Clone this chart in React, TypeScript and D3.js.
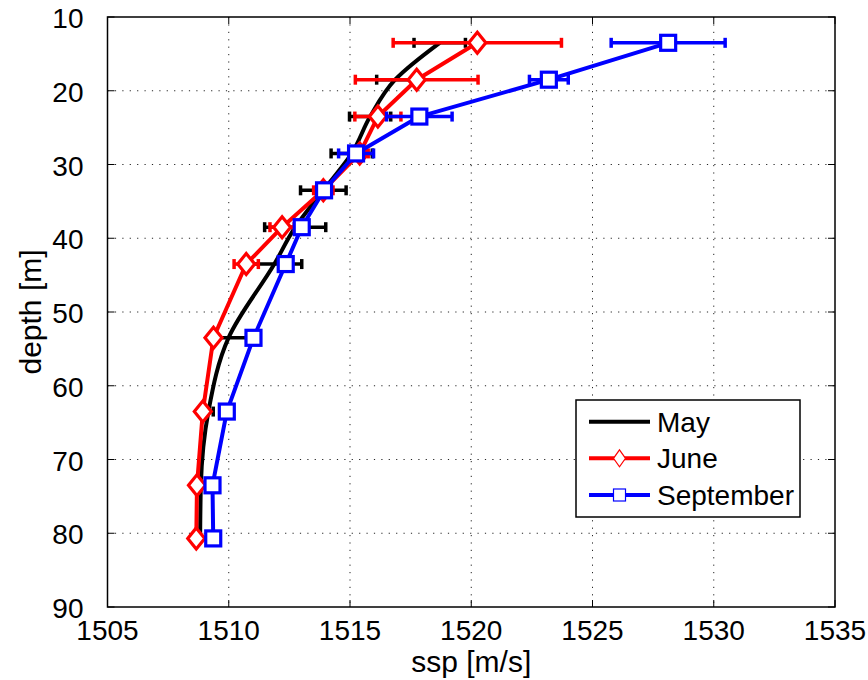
import React from "react";
import * as d3 from "d3";

// Sound speed profiles: depth [m] against speed of sound [m/s]
const depths = [13.5, 18.5, 23.5, 28.5, 33.5, 38.5, 43.5, 53.5, 63.5, 73.5, 80.7];

const maySsp = [1518.7, 1516.86, 1515.83, 1515.07, 1513.9, 1512.74, 1511.88, 1509.99, 1509.16, 1508.85, 1508.82];
const mayErr = [1.06, 0.76, 0.85, 0.85, 0.94, 1.26, 1.13, 0.75, 0.2, 0, 0];

const juneSsp = [1520.25, 1517.75, 1516.15, 1515.4, 1513.9, 1512.2, 1510.72, 1509.37, 1508.93, 1508.69, 1508.66];
const juneErr = [3.47, 2.53, 0.95, 0.35, 0.4, 0.5, 0.5, 0.15, 0, 0, 0];

const septSsp = [1528.12, 1523.2, 1517.86, 1515.25, 1513.93, 1513.01, 1512.35, 1511.02, 1509.92, 1509.33, 1509.36];
const septErr = [2.35, 0.8, 1.35, 0.72, 0.3, 0, 0, 0, 0, 0, 0];

const xTicks = [1505, 1510, 1515, 1520, 1525, 1530, 1535];
const yTicks = [10, 20, 30, 40, 50, 60, 70, 80, 90];

const seriesNames = ["May", "June", "September"];

const W = 868;
const H = 680;
const margin = { left: 107.5, right: 33, top: 17, bottom: 73 };
const FONT = "'Liberation Sans', Arial, Helvetica, sans-serif";

export default function App() {
  const x = d3.scaleLinear().domain([1505, 1535]).range([margin.left, W - margin.right]);
  const y = d3.scaleLinear().domain([10, 90]).range([margin.top, H - margin.bottom]);
  const [x0, x1] = x.range();
  const [y0, y1] = y.range();

  const smooth = d3
    .line<number>()
    .x((v) => x(v))
    .y((_, i) => y(depths[i]))
    .curve(d3.curveMonotoneY);
  const straight = d3
    .line<number>()
    .x((v) => x(v))
    .y((_, i) => y(depths[i]));

  const series = [
    { name: seriesNames[0], color: "#000000", vals: maySsp, err: mayErr, marker: "none", path: smooth },
    { name: seriesNames[1], color: "#ff0000", vals: juneSsp, err: juneErr, marker: "diamond", path: straight },
    { name: seriesNames[2], color: "#0000ff", vals: septSsp, err: septErr, marker: "square", path: straight },
  ];

  const marker = (kind: string, cx: number, cy: number, color: string, big: boolean, key: string) => {
    if (kind === "diamond") {
      const hw = big ? 8.5 : 6;
      const hh = big ? 10.5 : 8.5;
      return (
        <path
          key={key}
          d={`M${cx},${cy - hh}L${cx + hw},${cy}L${cx},${cy + hh}L${cx - hw},${cy}Z`}
          fill="#fff"
          stroke={color}
          strokeWidth={big ? 3.2 : 1.2}
        />
      );
    }
    if (kind === "square") {
      const h = big ? 7.5 : 6;
      return (
        <rect
          key={key}
          x={cx - h}
          y={cy - h}
          width={2 * h}
          height={2 * h}
          fill="#fff"
          stroke={color}
          strokeWidth={big ? 3.2 : 1.2}
        />
      );
    }
    return null;
  };

  const legendRows = [421.7, 458.3, 495];

  return (
    <svg width={W} height={H} style={{ display: "block", position: "absolute", left: 0, top: 0 }} fontFamily={FONT}>
      <rect x={0} y={0} width={W} height={H} fill="#fff" />

      {/* dotted grid */}
      <g stroke="#000" strokeWidth={1} strokeDasharray="1.2,6.2" opacity={0.85}>
        {xTicks.slice(1, -1).map((t) => (
          <line key={`gx${t}`} x1={x(t)} x2={x(t)} y1={y0} y2={y1} />
        ))}
        {yTicks.slice(1, -1).map((t) => (
          <line key={`gy${t}`} x1={x0} x2={x1} y1={y(t)} y2={y(t)} />
        ))}
      </g>

      {/* inward ticks on all four sides */}
      <g stroke="#000" strokeWidth={1}>
        {xTicks.map((t) => (
          <g key={`tx${t}`}>
            <line x1={x(t)} x2={x(t)} y1={y1} y2={y1 - 7} />
            <line x1={x(t)} x2={x(t)} y1={y0} y2={y0 + 7} />
          </g>
        ))}
        {yTicks.map((t) => (
          <g key={`ty${t}`}>
            <line x1={x0} x2={x0 + 7} y1={y(t)} y2={y(t)} />
            <line x1={x1} x2={x1 - 7} y1={y(t)} y2={y(t)} />
          </g>
        ))}
      </g>

      {/* error bars and profiles */}
      {series.map((s) => (
        <g key={s.name}>
          <g stroke={s.color} strokeWidth={3.5}>
            {s.vals.map((v, i) =>
              s.err[i] > 0 ? (
                <g key={i}>
                  <line x1={x(v - s.err[i])} x2={x(v + s.err[i])} y1={y(depths[i])} y2={y(depths[i])} />
                  <line x1={x(v - s.err[i])} x2={x(v - s.err[i])} y1={y(depths[i]) - 5} y2={y(depths[i]) + 5} />
                  <line x1={x(v + s.err[i])} x2={x(v + s.err[i])} y1={y(depths[i]) - 5} y2={y(depths[i]) + 5} />
                </g>
              ) : null
            )}
          </g>
          <path d={s.path(s.vals) || ""} fill="none" stroke={s.color} strokeWidth={4} strokeLinejoin="round" />
          {s.vals.map((v, i) => marker(s.marker, x(v), y(depths[i]), s.color, true, `m${i}`))}
        </g>
      ))}

      {/* axes box */}
      <rect x={x0} y={y0} width={x1 - x0} height={y1 - y0} fill="none" stroke="#000" strokeWidth={1.5} />

      {/* tick labels */}
      <g fontSize={28} fill="#000">
        {xTicks.map((t) => (
          <text key={`lx${t}`} x={x(t)} y={y1 + 33} textAnchor="middle">
            {t}
          </text>
        ))}
        {yTicks.map((t) => (
          <text key={`ly${t}`} x={x0 - 24} y={y(t) + 11} textAnchor="end">
            {t}
          </text>
        ))}
      </g>

      {/* axis titles */}
      <text x={(x0 + x1) / 2} y={672} textAnchor="middle" fontSize={30}>
        ssp [m/s]
      </text>
      <text transform={`translate(41, ${(y0 + y1) / 2}) rotate(-90)`} textAnchor="middle" fontSize={30}>
        depth [m]
      </text>

      {/* legend */}
      <g>
        <rect x={576} y={400} width={224} height={117} fill="#fff" stroke="#000" strokeWidth={1.5} />
        {series.map((s, i) => (
          <g key={`lg${s.name}`}>
            <line x1={589} x2={650} y1={legendRows[i]} y2={legendRows[i]} stroke={s.color} strokeWidth={4} />
            {marker(s.marker, 619.5, legendRows[i], s.color, false, `lm${i}`)}
            <text x={657} y={legendRows[i] + 10} fontSize={28}>
              {s.name}
            </text>
          </g>
        ))}
      </g>
    </svg>
  );
}
